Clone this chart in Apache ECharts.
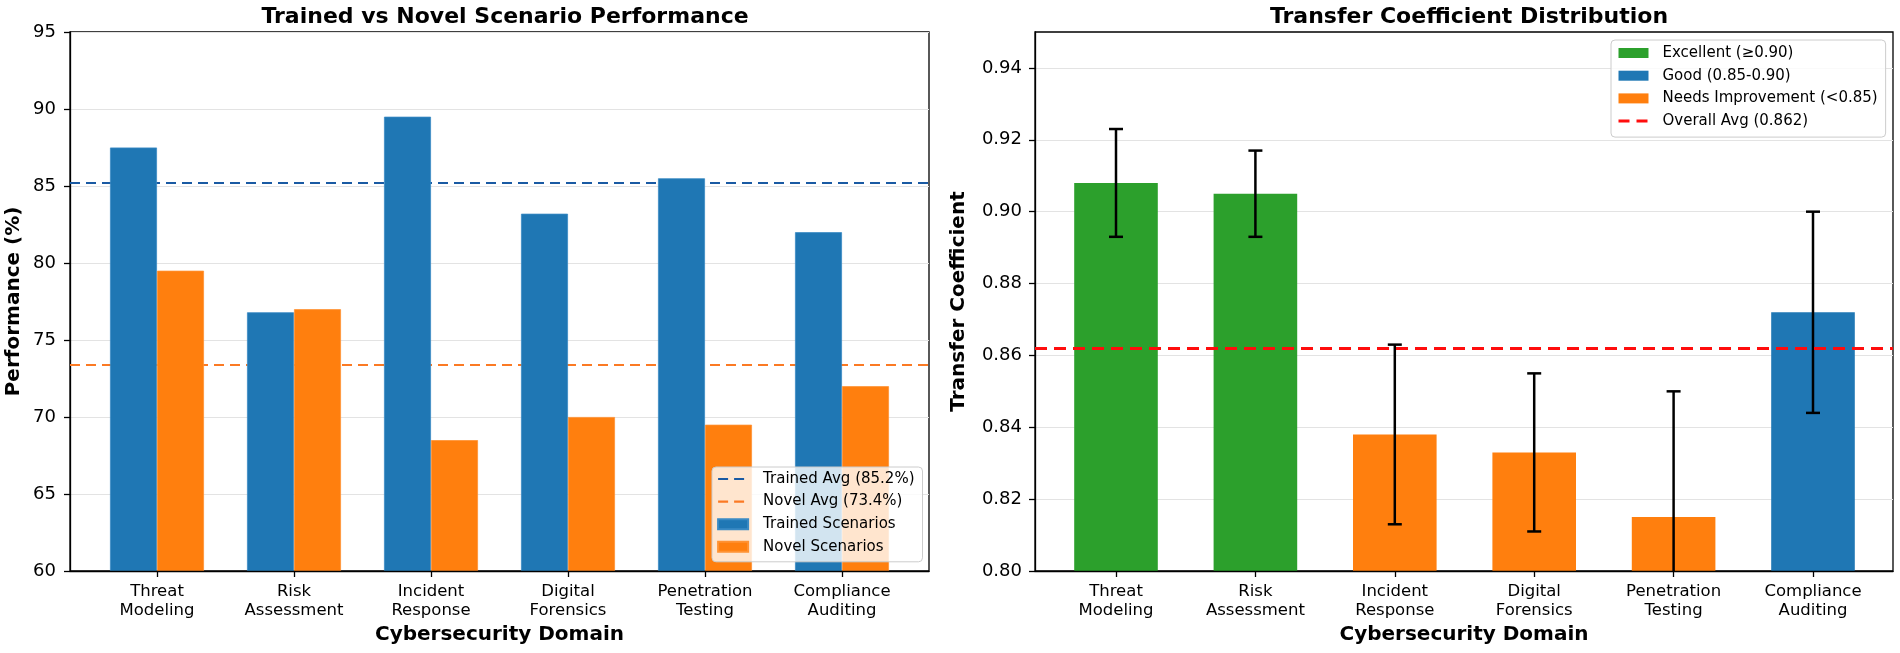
<!DOCTYPE html>
<html><head><meta charset="utf-8">
<script src="https://cdn.jsdelivr.net/npm/echarts@6/dist/echarts.min.js"></script>
<style>html,body{margin:0;padding:0;background:#fff}#c{width:1900px;height:653px}</style>
</head><body><div id="c"></div>
<script>
// ---- data ----
const categories = ['Threat Modeling','Risk Assessment','Incident Response','Digital Forensics','Penetration Testing','Compliance Auditing'];
const trainedScores = [87.5, 76.8, 89.5, 83.2, 85.5, 82.0];
const novelScores   = [79.5, 77.0, 68.5, 70.0, 69.5, 72.0];
const trainedAvg = 85.2;
const novelAvg = 73.4;
const transferCoef = [0.908, 0.905, 0.838, 0.833, 0.815, 0.872];
const transferErr  = [0.015, 0.012, 0.025, 0.022, 0.035, 0.028];
const overallAvg = 0.862;
const perfTicks = [60, 65, 70, 75, 80, 85, 90, 95];
const coefTicks = [0.80, 0.82, 0.84, 0.86, 0.88, 0.90, 0.92, 0.94];
const tierNames = ['Excellent (\u22650.90)', 'Good (0.85-0.90)', 'Needs Improvement (<0.85)'];

// ---- build ----
const FONT = 'DejaVu Sans';
const C_BLUE = '#1f77b4', C_ORANGE = '#ff7f0e', C_GREEN = '#2ca02c';
const C_TAVG = '#1a5aa3', C_NAVG = '#fb7a24', C_RED = '#ff0d0d';
const tierOf = v => v >= 0.90 ? 0 : (v >= 0.85 ? 1 : 2);
const tierColors = [C_GREEN, C_BLUE, C_ORANGE];
const tierData = [0,1,2].map(t => transferCoef.map(v => tierOf(v) === t ? v : '-'));
const errData = transferCoef.map((v, i) => [i, v - transferErr[i], v + transferErr[i]]);
const trainedAvgName = 'Trained Avg (' + trainedAvg.toFixed(1) + '%)';
const novelAvgName = 'Novel Avg (' + novelAvg.toFixed(1) + '%)';
const overallName = 'Overall Avg (' + overallAvg.toFixed(3) + ')';

const frameGrid = (left, width) => ({left, top: 32, width, height: 539, show: true,
  borderColor: '#000', borderWidth: 1.3, backgroundColor: 'transparent'});
const dataGrid = (left, width) => ({left, top: 32, width, height: 539});

const catAxis = (gi) => ({
  type: 'category', gridIndex: gi, data: categories,
  axisLine: {show: false},
  axisTick: {show: true, alignWithLabel: true, length: 6, lineStyle: {color: '#000', width: 1.3}},
  axisLabel: {color: '#000', fontFamily: FONT, fontSize: 16.5, lineHeight: 19, margin: 11,
    formatter: v => v.replace(' ', '\n')},
  splitLine: {show: false}
});
const frameX = (gi) => ({
  type: 'value', gridIndex: gi, min: 0, max: 1, z: 5,
  name: 'Cybersecurity Domain', nameLocation: 'middle', nameGap: 54,
  nameTextStyle: {fontFamily: FONT, fontSize: 20, fontWeight: 'bold', color: '#000'},
  axisLine: {show: true, onZero: false, lineStyle: {color: '#000', width: 1.3}},
  axisTick: {show: false}, axisLabel: {show: false}, splitLine: {show: false}
});
const legendLine = (name, color, w, dash) => ({
  name, itemStyle: {opacity: 0}, lineStyle: {color, width: w, type: dash}
});

const option = {
  animation: false,
  backgroundColor: '#fff',
  textStyle: {fontFamily: FONT},
  title: [
    {text: 'Trained vs Novel Scenario Performance', left: 500, top: 1, textAlign: 'center',
     textStyle: {fontFamily: FONT, fontSize: 22, fontWeight: 'bold', color: '#000'}},
    {text: 'Transfer Coefficient Distribution', left: 1464, top: 1, textAlign: 'center',
     textStyle: {fontFamily: FONT, fontSize: 22, fontWeight: 'bold', color: '#000'}}
  ],
  grid: [
    frameGrid(70, 859),
    dataGrid(157 - 68.5, 6 * 137),
    frameGrid(1035, 858),
    dataGrid(1116 - 69.7, 6 * 139.4)
  ],
  xAxis: [frameX(0), catAxis(1), frameX(2), catAxis(3)],
  yAxis: [
    {type: 'value', gridIndex: 0, min: perfTicks[0], max: perfTicks[perfTicks.length - 1], interval: 5,
     name: 'Performance (%)', nameLocation: 'middle', nameGap: 46,
     nameTextStyle: {fontFamily: FONT, fontSize: 20, fontWeight: 'bold', color: '#000'},
     axisLine: {show: true, lineStyle: {color: '#000', width: 1.3}},
     axisTick: {show: true, length: 6, lineStyle: {color: '#000', width: 1.3}},
     axisLabel: {color: '#000', fontFamily: FONT, fontSize: 18, margin: 14, customValues: perfTicks},
     splitLine: {show: true, lineStyle: {color: '#e3e3e3', width: 1.2}}},
    {type: 'value', gridIndex: 1, min: perfTicks[0], max: perfTicks[perfTicks.length - 1], show: false,
     splitLine: {show: false}},
    {type: 'value', gridIndex: 2, min: 0.80, max: 0.95, interval: 0.02,
     name: 'Transfer Coefficient', nameLocation: 'middle', nameGap: 66,
     nameTextStyle: {fontFamily: FONT, fontSize: 20, fontWeight: 'bold', color: '#000'},
     axisLine: {show: true, lineStyle: {color: '#000', width: 1.3}},
     axisTick: {show: true, length: 6, lineStyle: {color: '#000', width: 1.3}, customValues: coefTicks},
     axisLabel: {color: '#000', fontFamily: FONT, fontSize: 18, margin: 13, customValues: coefTicks,
       formatter: v => Number(v).toFixed(2)},
     splitLine: {show: true, lineStyle: {color: '#e3e3e3', width: 1.2}}},
    {type: 'value', gridIndex: 3, min: 0.80, max: 0.95, show: false, splitLine: {show: false}}
  ],
  legend: [
    {orient: 'vertical', left: 712, top: 467, itemWidth: 30, itemHeight: 10, itemGap: 6.6,
     padding: [4, 8, 7, 5], backgroundColor: 'rgba(255,255,255,0.8)', borderColor: '#cccccc',
     borderWidth: 1, borderRadius: 4,
     textStyle: {fontFamily: FONT, fontSize: 15, color: '#000', lineHeight: 16, padding: [0, 0, 0, 10]},
     data: [legendLine(trainedAvgName, C_TAVG, 2.2, [10, 6]), legendLine(novelAvgName, C_NAVG, 2.2, [10, 6]),
            {name: 'Trained Scenarios', icon: 'rect'}, {name: 'Novel Scenarios', icon: 'rect'}]},
    {orient: 'vertical', left: 1611, top: 40, itemWidth: 30, itemHeight: 10, itemGap: 6.7,
     padding: [5, 8, 8, 6], backgroundColor: 'rgba(255,255,255,0.8)', borderColor: '#cccccc',
     borderWidth: 1, borderRadius: 4,
     textStyle: {fontFamily: FONT, fontSize: 15, color: '#000', lineHeight: 16, padding: [0, 0, 0, 9]},
     data: [{name: tierNames[0], icon: 'rect'}, {name: tierNames[1], icon: 'rect'},
            {name: tierNames[2], icon: 'rect'}, legendLine(overallName, C_RED, 3, [11, 7])]}
  ],
  series: [
    {name: trainedAvgName, type: 'line', xAxisIndex: 0, yAxisIndex: 0, data: [], symbol: 'none', z: 1,
     itemStyle: {color: C_TAVG}, lineStyle: {color: C_TAVG, width: 2.2, type: [10, 6]},
     markLine: {silent: true, symbol: 'none', z: 1, precision: 4, label: {show: false},
       lineStyle: {color: C_TAVG, width: 2.2, type: [10, 6]}, data: [{yAxis: trainedAvg}]}},
    {name: novelAvgName, type: 'line', xAxisIndex: 0, yAxisIndex: 0, data: [], symbol: 'none', z: 1,
     itemStyle: {color: C_NAVG}, lineStyle: {color: C_NAVG, width: 2.2, type: [10, 6]},
     markLine: {silent: true, symbol: 'none', z: 1, precision: 4, label: {show: false},
       lineStyle: {color: C_NAVG, width: 2.2, type: [10, 6]}, data: [{yAxis: novelAvg}]}},
    {name: 'Trained Scenarios', type: 'bar', xAxisIndex: 1, yAxisIndex: 1, data: trainedScores,
     barWidth: 47, barGap: '0%', z: 3, itemStyle: {color: C_BLUE, borderColor: '#3a8ac4', borderWidth: 0.8}},
    {name: 'Novel Scenarios', type: 'bar', xAxisIndex: 1, yAxisIndex: 1, data: novelScores,
     barWidth: 47, barGap: '0%', z: 3, itemStyle: {color: C_ORANGE, borderColor: '#ff9233', borderWidth: 0.8}},
    ...[0, 1, 2].map(t => ({
      name: tierNames[t], type: 'bar', xAxisIndex: 3, yAxisIndex: 3, data: tierData[t],
      barWidth: 83.6, barGap: '-100%', z: 3,
      itemStyle: {color: tierColors[t]}
    })),
    {name: 'err', type: 'custom', xAxisIndex: 3, yAxisIndex: 3, data: errData, clip: true, z: 6,
     encode: {x: 0, y: [1, 2]},
     renderItem: (params, api) => {
       const i = api.value(0);
       const lo = api.coord([i, api.value(1)]);
       const hi = api.coord([i, api.value(2)]);
       const hw = 7;
       const style = {stroke: '#000', lineWidth: 2.5, fill: null};
       return {type: 'group', children: [
         {type: 'line', shape: {x1: lo[0], y1: lo[1], x2: hi[0], y2: hi[1]}, style},
         {type: 'line', shape: {x1: lo[0] - hw, y1: lo[1], x2: lo[0] + hw, y2: lo[1]}, style},
         {type: 'line', shape: {x1: hi[0] - hw, y1: hi[1], x2: hi[0] + hw, y2: hi[1]}, style}
       ]};
     }},
    {name: overallName, type: 'line', xAxisIndex: 2, yAxisIndex: 2, data: [], symbol: 'none', z: 8,
     itemStyle: {color: C_RED}, lineStyle: {color: C_RED, width: 3, type: [12, 7]},
     markLine: {silent: true, symbol: 'none', z: 8, precision: 4, label: {show: false},
       lineStyle: {color: C_RED, width: 3, type: [12, 7]}, data: [{yAxis: overallAvg}]}}
  ]
};
const chart = echarts.init(document.getElementById('c'));
chart.setOption(option);
</script>
</body></html>
